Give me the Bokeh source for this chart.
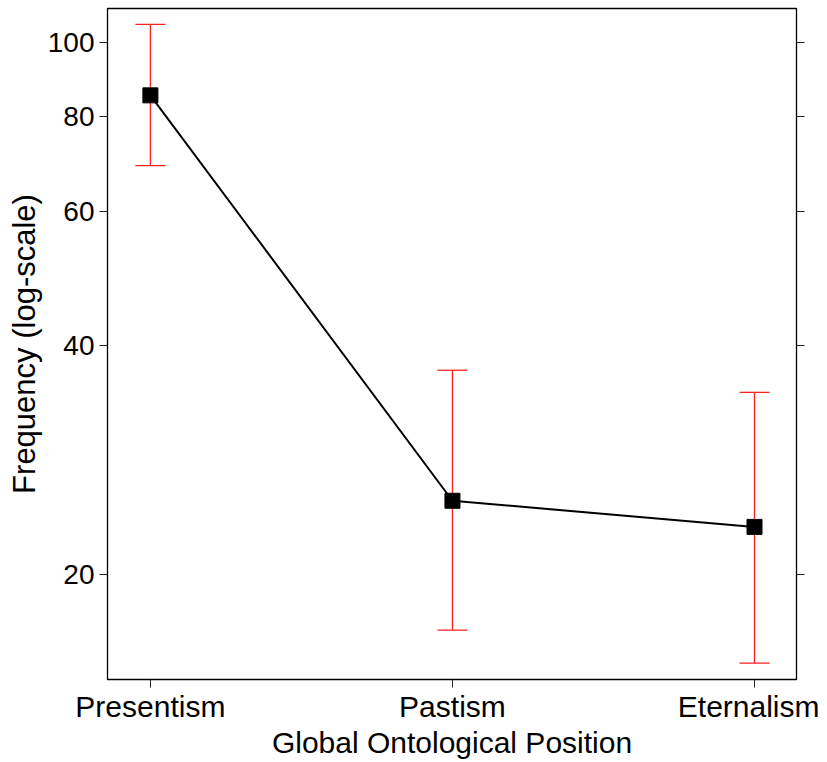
from bokeh.plotting import figure
from bokeh.models import Range1d, FixedTicker, LogAxis, Whisker, ColumnDataSource, CustomJSTickFormatter, BasicTickFormatter, TeeHead
from bokeh.embed import file_html
from bokeh.resources import INLINE

categories = ["Presentism", "Pastism", "Eternalism"]
freq = [85.2, 25.0, 23.1]
upper = [105.6, 37.1, 34.7]
lower = [68.9, 16.9, 15.3]
y_ticks = [20, 40, 60, 80, 100]

xs = list(range(1, len(categories) + 1))
src = ColumnDataSource(dict(x=xs, y=freq, upper=upper, lower=lower))

FONT = "Liberation Sans"

p = figure(width=819, height=762, y_axis_type="log",
           x_range=Range1d(0.858, 3.139), y_range=Range1d(14.56, 110.8),
           output_backend="svg", toolbar_location=None,
           min_border_left=107, min_border_right=23, min_border_top=8, min_border_bottom=83)
p.grid.visible = False
p.outline_line_color = "black"
p.outline_line_width = 1.3
p.background_fill_color = "white"
p.border_fill_color = "white"

# error bars
w = Whisker(source=src, base="x", upper="upper", lower="lower",
            line_color="#ff2020", line_width=1.3,
            upper_head=TeeHead(size=30, line_color="#ff2020", line_width=1.3),
            lower_head=TeeHead(size=30, line_color="#ff2020", line_width=1.3))
p.add_layout(w)

p.line("x", "y", source=src, line_color="black", line_width=2)
p.scatter("x", "y", source=src, marker="square", size=15, fill_color="black", line_color="black")

# y axis left
ya = p.yaxis[0]
ya.ticker = FixedTicker(ticks=y_ticks, minor_ticks=[])
ya.formatter = BasicTickFormatter()
ya.axis_label = "Frequency (log-scale)"
ya.axis_label_text_font = FONT
ya.axis_label_text_font_size = "31px"
ya.axis_label_text_font_style = "normal"
ya.axis_label_text_color = "black"
ya.axis_label_standoff = 3
ya.major_label_text_font = FONT
ya.major_label_text_font_size = "28px"
ya.major_label_text_color = "black"
ya.major_label_standoff = 5
ya.major_tick_out = 8
ya.major_tick_in = 0
ya.major_tick_line_color = "#222222"
ya.minor_tick_out = 0
ya.minor_tick_in = 0
ya.axis_line_color = None

# y axis right
ra = LogAxis(ticker=FixedTicker(ticks=y_ticks, minor_ticks=[]),
             formatter=CustomJSTickFormatter(code="return ''"))
ra.major_tick_out = 8
ra.major_tick_in = 0
ra.major_tick_line_color = "#222222"
ra.minor_tick_out = 0
ra.minor_tick_in = 0
ra.axis_line_color = None
ra.major_label_text_font_size = "1px"
p.add_layout(ra, "right")

# x axis
xa = p.xaxis[0]
xa.ticker = FixedTicker(ticks=xs, minor_ticks=[])
xa.major_label_overrides = {x: c for x, c in zip(xs, categories)}
xa.axis_label = "Global Ontological Position"
xa.axis_label_text_font = FONT
xa.axis_label_text_font_size = "30px"
xa.axis_label_text_font_style = "normal"
xa.axis_label_text_color = "black"
xa.axis_label_standoff = 0
xa.major_label_text_font = FONT
xa.major_label_text_font_size = "30px"
xa.major_label_text_color = "black"
xa.major_label_standoff = 2
xa.major_tick_out = 8
xa.major_tick_in = 0
xa.major_tick_line_color = "#222222"
xa.minor_tick_out = 0
xa.minor_tick_in = 0
xa.axis_line_color = None

open("out.html", "w").write(file_html(p, INLINE))
